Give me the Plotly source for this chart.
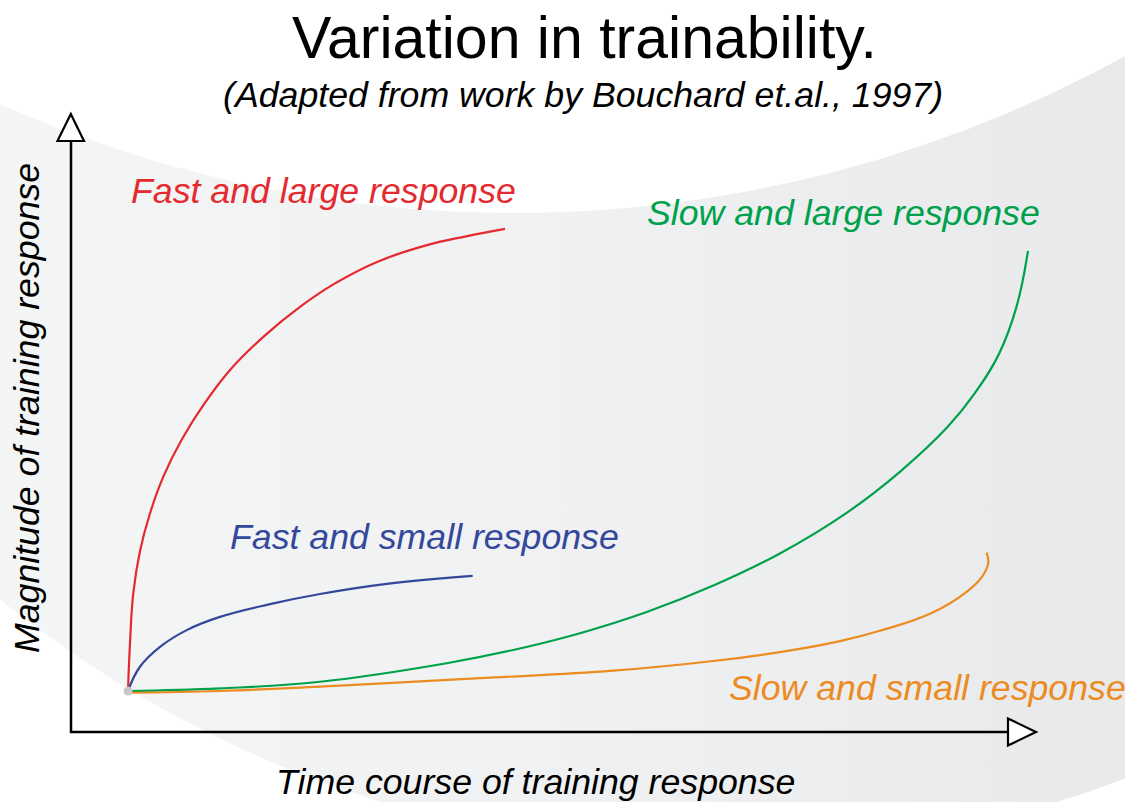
import numpy as np
import plotly.graph_objects as go

# ---------------- data (arbitrary units: time course vs magnitude) ----------------
fast_large_time = [0, 0.022, 0.059, 0.133, 0.245, 0.393, 0.595, 0.851, 1.135, 1.505, 1.913,
                   2.284, 2.770, 3.326, 3.760, 4.194]
fast_large_mag = [0, 1.08, 2.22, 3.17, 4.03, 4.86, 5.69, 6.52, 7.28, 8.03, 8.71,
                  9.22, 9.73, 10.11, 10.31, 10.48]

fast_small_time = [0, 0.133, 0.356, 0.653, 1.023, 1.580, 2.136, 2.878, 3.834]
fast_small_mag = [0, 0.55, 1.00, 1.38, 1.68, 1.97, 2.20, 2.43, 2.61]

slow_large_time = [0, 1.023, 2.136, 3.545, 4.286, 5.028, 5.770, 6.511, 7.252, 7.994,
                   8.586, 9.118, 9.422, 9.692, 9.883, 10.011]
slow_large_mag = [0, 0.06, 0.21, 0.63, 0.93, 1.31, 1.79, 2.39, 3.12, 4.04,
                  4.97, 5.99, 6.76, 7.66, 8.71, 9.98]

slow_small_time = [0, 1.023, 2.136, 3.915, 5.398, 6.511, 7.252, 7.920, 8.354, 8.921,
                   9.310, 9.499, 9.569, 9.551]
slow_small_mag = [-0.04, 0.0, 0.10, 0.29, 0.46, 0.68, 0.88, 1.13, 1.36, 1.75,
                  2.22, 2.59, 2.90, 3.14]

series_names = ["Fast and large response", "Fast and small response",
                "Slow and large response", "Slow and small response"]

# ---------------- layout constants ----------------
W, H = 1125, 802
PX0, PY0 = 128, 691      # pixel position of the data origin
SX, SY = 89.9, 44.1      # pixels per data unit


def px(x):
    return x / W


def py(y):
    return 1 - y / H


FONT = "Liberation Sans, Arial, Helvetica, sans-serif"
RED, BLUE, GREEN, ORANGE = "#e52a2f", "#34489b", "#00a14b", "#ec8b1f"

fig = go.Figure()

# background swoosh band: outside circle A, inside circle B (pixel geometry)
cxA, cyA, RA = 514.0, -1055.0, 1268.0
cxB, cyB, RB = 719.0, -293.0, 1146.0
xs = np.linspace(-5, W + 5, 300)
top = cyA + np.sqrt(RA**2 - (xs - cxA) ** 2)
bot = cyB + np.sqrt(np.clip(RB**2 - (xs - cxB) ** 2, 0, None))
poly_x = np.concatenate([xs, xs[::-1]])
poly_y = np.concatenate([top, bot[::-1]])
fig.add_trace(go.Scatter(
    x=(poly_x - PX0) / SX, y=(PY0 - poly_y) / SY,
    mode="lines", fill="toself", line=dict(width=0),
    fillgradient=dict(type="horizontal",
                      colorscale=[[0, "#f4f5f5"], [0.5, "#f0f1f2"], [1, "#e8e9eb"]]),
    hoverinfo="skip", showlegend=False))

for t, m, c, name in [
    (fast_large_time, fast_large_mag, RED, series_names[0]),
    (fast_small_time, fast_small_mag, BLUE, series_names[1]),
    (slow_large_time, slow_large_mag, GREEN, series_names[2]),
    (slow_small_time, slow_small_mag, ORANGE, series_names[3]),
]:
    fig.add_trace(go.Scatter(x=t, y=m, mode="lines", name=name,
                             line=dict(color=c, width=2.2, shape="spline", smoothing=1.2),
                             showlegend=False))

fig.add_trace(go.Scatter(x=[0], y=[0], mode="markers",
                         marker=dict(color="#c8c8c8", size=9), showlegend=False,
                         hoverinfo="skip"))

# axes with open-triangle arrowheads (pixel geometry)
shapes = [
    dict(type="line", xref="paper", yref="paper", x0=px(71), y0=py(733), x1=px(71), y1=py(140),
         line=dict(color="black", width=2.5)),
    dict(type="line", xref="paper", yref="paper", x0=px(70), y0=py(732), x1=px(1008), y1=py(732),
         line=dict(color="black", width=2.5)),
    dict(type="path", xref="paper", yref="paper",
         path=f"M {px(57.5)} {py(141)} L {px(84)} {py(141)} L {px(70.8)} {py(114)} Z",
         fillcolor="white", line=dict(color="black", width=2.2)),
    dict(type="path", xref="paper", yref="paper",
         path=f"M {px(1008)} {py(718.5)} L {px(1008)} {py(745.5)} L {px(1036)} {py(732)} Z",
         fillcolor="white", line=dict(color="black", width=2.2)),
]


def ann(text, x, y, size, color, italic=True, xanchor="left", angle=0):
    return dict(text=text, x=px(x), y=py(y), xref="paper", yref="paper",
                xanchor=xanchor, yanchor="middle", showarrow=False, textangle=angle,
                font=dict(family=FONT, size=size, color=color,
                          style="italic" if italic else "normal"))


LS = 35.7
annotations = [
    ann("Variation in trainability.", 584, 38, 59, "black", italic=False, xanchor="center"),
    ann("(Adapted from work by Bouchard et.al., 1997)", 583, 95, LS, "black", xanchor="center"),
    ann(series_names[0], 129, 191, LS, RED),
    ann(series_names[2], 645, 213, LS, GREEN),
    ann(series_names[1], 228, 537, LS, BLUE),
    ann(series_names[3], 727, 688, LS, ORANGE),
    ann("Time course of training response", 535, 782, LS, "black", xanchor="center"),
    ann("Magnitude of training response", 27, 408, LS, "black", xanchor="center", angle=-90),
]

fig.update_layout(
    width=W, height=H,
    margin=dict(l=0, r=0, t=0, b=0),
    paper_bgcolor="white", plot_bgcolor="white",
    xaxis=dict(range=[(0 - PX0) / SX, (W - PX0) / SX], visible=False, fixedrange=True),
    yaxis=dict(range=[(PY0 - H) / SY, PY0 / SY], visible=False, fixedrange=True),
    shapes=shapes, annotations=annotations,
    showlegend=False,
)

fig.write_html("out.html", config={"displayModeBar": False},
               post_script="document.body.style.margin='0';document.body.style.overflow='hidden';")
